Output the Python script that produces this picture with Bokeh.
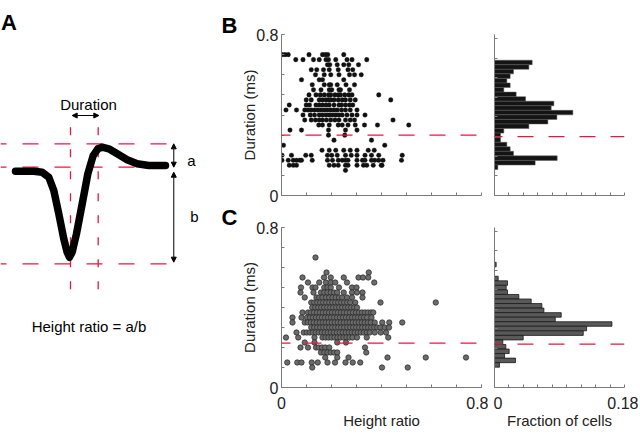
from bokeh.plotting import figure
from bokeh.models import Range1d, FixedTicker, Label, Arrow, NormalHead, Span
from bokeh.layouts import row, column
from bokeh.embed import file_html
from bokeh.resources import INLINE

FONT = "Liberation Sans"
RED = "#e3193f"
AXIS_GRAY = "#7a7a7a"
TXT = "#222222"

# ---------------- Panel A: schematic spike (time in ms rel. to trough, amplitude / trough depth) ----
wave_t = [-0.596, -0.398, -0.307, -0.235, -0.181, -0.127, -0.073, -0.036, -0.011, 0.018, 0.065,
          0.127, 0.188, 0.246, 0.296, 0.343, 0.415, 0.506, 0.614, 0.722, 0.848, 1.029]
wave_v = [-0.041, -0.041, -0.052, -0.104, -0.241, -0.482, -0.741, -0.880, -0.932, -0.880, -0.689,
          -0.379, -0.068, 0.121, 0.190, 0.207, 0.190, 0.139, 0.077, 0.035, 0.018, 0.018]
A_levels = [0.242, 0.0, -1.0]      # peak, baseline, trough
A_times = [0.0, 0.300]             # trough time, peak time

# ---------------- Panel B: Duration vs height ratio (black) ----------------
B_duration = [0.700, 0.675, 0.650, 0.625, 0.600, 0.575, 0.550, 0.525, 0.500, 0.475, 0.450, 0.425,
              0.400, 0.375, 0.350, 0.325, 0.300, 0.275, 0.250, 0.225, 0.200, 0.175, 0.150, 0.125]
B_ratio = [
    [0.002, 0.014, 0.027, 0.110, 0.164, 0.175, 0.185, 0.249],
    [0.057, 0.086, 0.128, 0.151, 0.178, 0.188, 0.217, 0.262, 0.282, 0.341],
    [0.184, 0.193, 0.223, 0.249, 0.269, 0.308],
    [0.119, 0.141, 0.168, 0.191, 0.227, 0.266, 0.285],
    [0.136, 0.171, 0.197, 0.230, 0.272, 0.292, 0.319],
    [0.080, 0.151, 0.164, 0.249],
    [0.123, 0.171, 0.191, 0.197, 0.223, 0.258, 0.292],
    [0.128, 0.158, 0.191, 0.201, 0.230, 0.236, 0.272],
    [0.110, 0.138, 0.155, 0.171, 0.188, 0.197, 0.214, 0.227, 0.236, 0.253, 0.269, 0.282, 0.389],
    [0.099, 0.119, 0.151, 0.164, 0.178, 0.188, 0.197, 0.210, 0.227, 0.243, 0.256, 0.275, 0.295, 0.437],
    [0.031, 0.099, 0.112, 0.138, 0.151, 0.164, 0.178, 0.191, 0.210, 0.230, 0.240, 0.256, 0.272, 0.285],
    [0.018, 0.060, 0.093, 0.106, 0.119, 0.132, 0.145, 0.158, 0.171, 0.184, 0.197, 0.210, 0.223, 0.240,
     0.256, 0.275, 0.302],
    [0.086, 0.115, 0.132, 0.151, 0.164, 0.178, 0.191, 0.204, 0.217, 0.230, 0.243, 0.262, 0.282, 0.302, 0.334],
    [0.093, 0.119, 0.136, 0.151, 0.164, 0.180, 0.197, 0.214, 0.230, 0.256, 0.275, 0.292, 0.446],
    [0.149, 0.164, 0.191, 0.227, 0.243, 0.266, 0.295, 0.332, 0.384, 0.509],
    [0.034, 0.080, 0.188, 0.256, 0.302],
    [0.188, 0.253],
    [0.210, 0.360],
    [0.008, 0.413],
    [0.162, 0.191, 0.217, 0.249, 0.275, 0.302, 0.347, 0.371],
    [0.002, 0.040, 0.097, 0.119, 0.184, 0.201, 0.223, 0.256, 0.279, 0.302, 0.334, 0.360, 0.389, 0.483],
    [0.002, 0.027, 0.047, 0.060, 0.073, 0.080, 0.123, 0.184, 0.204, 0.227, 0.243, 0.256, 0.266, 0.302,
     0.324, 0.334, 0.360, 0.373, 0.389, 0.406, 0.480],
    [0.031, 0.047, 0.060, 0.191, 0.210, 0.227, 0.256, 0.266, 0.302, 0.328, 0.341, 0.367, 0.399, 0.402],
    [0.256],
]
B_threshold = 0.30
B_hist_top = 0.689          # upper edge of highest bin (ms)
B_hist_bin = 0.0232         # bin width (ms)
B_hist_fraction = [0.0522, 0.0476, 0.0263, 0.0217, 0.0171, 0.0217, 0.0129, 0.0300, 0.0430, 0.0822,
                   0.0785, 0.1085, 0.0864, 0.0739, 0.0476, 0.0129, 0.0083, 0.0083, 0.0171, 0.0217,
                   0.0263, 0.0868, 0.0563, 0.0046]

# ---------------- Panel C: Duration vs height ratio (grey) ----------------
C_duration = [0.650, 0.575, 0.550, 0.525, 0.500, 0.475, 0.450, 0.425, 0.400, 0.375, 0.350, 0.325,
              0.300, 0.275, 0.250, 0.225, 0.200, 0.175, 0.150, 0.125, 0.100]
C_ratio = [
    [0.136],
    [0.180, 0.349],
    [0.084, 0.170, 0.197, 0.249, 0.308, 0.326, 0.347],
    [0.106, 0.151, 0.178, 0.197, 0.215, 0.262, 0.371],
    [0.078, 0.124, 0.136, 0.171, 0.184, 0.197, 0.230, 0.282, 0.300],
    [0.076, 0.128, 0.158, 0.171, 0.184, 0.197, 0.210, 0.223, 0.249, 0.282, 0.302, 0.324],
    [0.093, 0.140, 0.151, 0.164, 0.178, 0.191, 0.204, 0.217, 0.230, 0.243, 0.262, 0.282, 0.324],
    [0.119, 0.131, 0.143, 0.155, 0.167, 0.179, 0.191, 0.203, 0.215, 0.227, 0.239, 0.251, 0.263, 0.275,
     0.295, 0.396, 0.617],
    [0.123, 0.135, 0.147, 0.159, 0.171, 0.183, 0.195, 0.207, 0.219, 0.231, 0.243, 0.255, 0.267, 0.279,
     0.291, 0.302],
    [0.084, 0.106, 0.118, 0.130, 0.142, 0.154, 0.166, 0.178, 0.190, 0.202, 0.214, 0.226, 0.238, 0.250,
     0.262, 0.274, 0.286, 0.298, 0.310, 0.322, 0.334, 0.346, 0.358, 0.367],
    [0.044, 0.080, 0.102, 0.114, 0.126, 0.138, 0.150, 0.162, 0.174, 0.186, 0.198, 0.210, 0.222, 0.234,
     0.246, 0.258, 0.270, 0.282, 0.294, 0.306, 0.318, 0.330, 0.342, 0.360],
    [0.044, 0.093, 0.105, 0.117, 0.129, 0.141, 0.153, 0.165, 0.177, 0.189, 0.201, 0.213, 0.225, 0.237,
     0.249, 0.261, 0.273, 0.285, 0.297, 0.309, 0.321, 0.333, 0.345, 0.357, 0.373, 0.403, 0.431, 0.483],
    [0.119, 0.131, 0.143, 0.155, 0.167, 0.179, 0.191, 0.203, 0.215, 0.227, 0.239, 0.251, 0.263, 0.275,
     0.287, 0.299, 0.311, 0.323, 0.335, 0.347, 0.359, 0.371, 0.383, 0.395, 0.413, 0.430],
    [0.060, 0.089, 0.101, 0.113, 0.125, 0.137, 0.149, 0.161, 0.173, 0.185, 0.197, 0.209, 0.221, 0.233,
     0.245, 0.257, 0.269, 0.281, 0.293, 0.305, 0.317, 0.329, 0.341, 0.353, 0.373, 0.397, 0.418],
    [0.018, 0.067, 0.132, 0.164, 0.176, 0.188, 0.200, 0.212, 0.224, 0.236, 0.248, 0.260, 0.272, 0.284,
     0.302, 0.341, 0.427],
    [0.093, 0.132, 0.223, 0.258],
    [0.076, 0.106, 0.138, 0.149, 0.162, 0.175, 0.191, 0.334],
    [0.158, 0.171, 0.184, 0.197, 0.210, 0.223, 0.339],
    [0.175, 0.223, 0.268, 0.424, 0.577, 0.738],
    [0.023, 0.063, 0.080, 0.121, 0.145, 0.184, 0.214, 0.256, 0.285, 0.315],
    [0.123, 0.402, 0.505],
]
C_threshold = 0.222
C_hist_top = 0.570
C_hist_bin = 0.0233
C_hist_fraction = [0.0051, 0.0180, 0.0162, 0.0180, 0.0337, 0.0508, 0.0656, 0.0684, 0.0924, 0.0841,
                   0.1626, 0.1275, 0.1229, 0.0397, 0.0115, 0.0157, 0.0203, 0.0139, 0.0291, 0.0069]
C_hist_outlier_center = 0.630
C_hist_outlier_fraction = 0.0023

SCATTER_MINOR = [0.0, 0.1, 0.2, 0.3, 0.4, 0.5, 0.6, 0.7, 0.8]
HIST_MINOR = [0.0, 0.02, 0.04, 0.06, 0.08, 0.10, 0.12, 0.14, 0.16, 0.18]
HIST_LABEL_TICKS = [0.0048, 0.18]          # "0" label sits a little right of the axis, as printed
HIST_LABELS = {0.0048: "0", 0.18: "0.18"}


def style_axis(ax):
    ax.axis_line_color = AXIS_GRAY
    ax.axis_line_width = 1
    ax.major_tick_line_color = AXIS_GRAY
    ax.minor_tick_line_color = AXIS_GRAY
    ax.major_tick_in = 3
    ax.major_tick_out = 0
    ax.minor_tick_in = 3
    ax.minor_tick_out = 0
    ax.major_label_text_font = FONT
    ax.major_label_text_font_size = "16px"
    ax.major_label_text_color = TXT
    ax.axis_label_text_font = FONT
    ax.axis_label_text_font_size = "15px"
    ax.axis_label_text_font_style = "normal"
    ax.axis_label_text_color = TXT


def base_fig(w, h, xr, yr, left, right, top, bottom):
    p = figure(width=w, height=h, x_range=xr, y_range=yr, output_backend="svg",
               toolbar_location=None, title=None, min_border_left=left, min_border_right=right,
               min_border_top=top, min_border_bottom=bottom)
    p.outline_line_color = None
    p.xgrid.visible = False
    p.ygrid.visible = False
    p.background_fill_color = "white"
    p.border_fill_color = "white"
    style_axis(p.xaxis[0])
    style_axis(p.yaxis[0])
    return p


def flatten(levels, ratios):
    xs, ys = [], []
    for d, rs in zip(levels, ratios):
        for r in rs:
            xs.append(r)
            ys.append(d)
    return xs, ys


# ---------------- Figure A (also carries the B / C panel letters) ----------------
pA = figure(width=238, height=436, x_range=Range1d(-0.7584, 1.8202), y_range=Range1d(-2.7878, 1.7257),
            output_backend="svg", toolbar_location=None, title=None, x_axis_type=None, y_axis_type=None,
            min_border=0)
pA.outline_line_color = None
pA.segment(x0=[-0.7584] * 3, y0=A_levels, x1=[1.083] * 3, y1=A_levels, line_color=RED,
           line_width=1.3, line_dash="16 16", line_dash_offset=10)
pA.segment(x0=A_times, y0=[0.414] * 2, x1=A_times, y1=[-1.346] * 2, line_color=RED,
           line_width=1.3, line_dash="8 14")
pA.line(wave_t, wave_v, line_width=7.5, line_color="black", line_join="round", line_cap="round")


def dbl_arrow(p, x0, y0, x1, y1):
    p.add_layout(Arrow(start=NormalHead(size=5, fill_color="black", line_color="black"),
                       end=NormalHead(size=5, fill_color="black", line_color="black"),
                       x_start=x0, y_start=y0, x_end=x1, y_end=y1, line_color="black", line_width=1))


dbl_arrow(pA, 0.018, 0.535, 0.307, 0.535)
dbl_arrow(pA, 1.119, A_levels[0], 1.119, A_levels[1])
dbl_arrow(pA, 1.119, -0.052, 1.119, -0.983)

for txt, x, y, align, size, style in [
    ("A", -0.753, 1.498, "left", "22px", "bold"),
    ("B", 1.636, 1.467, "left", "22px", "bold"),
    ("C", 1.636, -0.521, "left", "22px", "bold"),
    ("Duration", 0.195, 0.649, "center", "15px", "normal"),
    ("a", 1.311, 0.069, "center", "15px", "normal"),
    ("b", 1.343, -0.510, "center", "15px", "normal"),
    ("Height ratio = a/b", 0.200, -1.649, "center", "15px", "normal"),
]:
    pA.add_layout(Label(x=x, y=y, text=txt, text_align=align, text_baseline="alphabetic",
                        text_font=FONT, text_font_size=size, text_font_style=style, text_color="black"))

# ---------------- Figure B ----------------
Bs = base_fig(250, 205, Range1d(0, 0.8), Range1d(0, 0.8), 39, 7, 34, 10)
Bs.xaxis[0].ticker = FixedTicker(ticks=[], minor_ticks=SCATTER_MINOR)
Bs.xaxis[0].major_label_standoff = 0
Bs.yaxis[0].ticker = FixedTicker(ticks=[0, 0.8], minor_ticks=SCATTER_MINOR)
Bs.yaxis[0].major_label_standoff = 3
Bs.yaxis[0].axis_label = "Duration (ms)"
Bs.yaxis[0].axis_label_standoff = -5
bx, by = flatten(B_duration, B_ratio)
Bs.scatter(bx, by, size=4.6, marker="circle", fill_color="#111111", line_color="#111111", line_width=0.3)
Bs.add_layout(Span(location=B_threshold, dimension="width", line_color=RED, line_width=1.3,
                   line_dash="16 15", line_dash_offset=7))

B_centers = [B_hist_top - (i + 0.5) * B_hist_bin for i in range(len(B_hist_fraction))]
Bh = base_fig(150, 205, Range1d(0, 0.18), Range1d(0, 0.8199), 6, 14, 30, 10)
Bh.xaxis[0].ticker = FixedTicker(ticks=[], minor_ticks=HIST_MINOR)
Bh.xaxis[0].major_label_standoff = 0
Bh.yaxis[0].ticker = FixedTicker(ticks=[], minor_ticks=SCATTER_MINOR[1:])
Bh.yaxis[0].major_label_standoff = 0
Bh.hbar(y=B_centers, height=B_hist_bin, left=0, right=B_hist_fraction, fill_color="#141414",
        line_color="#5a5a5a", line_width=0.5)
Bh.add_layout(Span(location=B_threshold, dimension="width", line_color=RED, line_width=1.3,
                   line_dash="16 15", line_dash_offset=8))

# ---------------- Figure C ----------------
Cs = base_fig(250, 231, Range1d(0, 0.8), Range1d(0, 0.8), 39, 7, 22, 49)
Cs.xaxis[0].ticker = FixedTicker(ticks=[0, 0.8], minor_ticks=SCATTER_MINOR)
Cs.xaxis[0].major_label_standoff = 9
Cs.xaxis[0].axis_label = "Height ratio"
Cs.xaxis[0].axis_label_standoff = 0
Cs.yaxis[0].ticker = FixedTicker(ticks=[0, 0.8], minor_ticks=SCATTER_MINOR)
Cs.yaxis[0].major_label_standoff = 3
Cs.yaxis[0].axis_label = "Duration (ms)"
Cs.yaxis[0].axis_label_standoff = -5
cx, cy = flatten(C_duration, C_ratio)
Cs.scatter(cx, cy, size=5.4, marker="circle", fill_color="#6b6b6b", line_color="#262626", line_width=0.7)
Cs.add_layout(Span(location=C_threshold, dimension="width", line_color=RED, line_width=1.3,
                   line_dash="16 15", line_dash_offset=7))

C_centers = [C_hist_top - (i + 0.5) * C_hist_bin for i in range(len(C_hist_fraction))]
Ch = base_fig(150, 231, Range1d(0, 0.18), Range1d(0, 0.82), 6, 14, 18, 49)
Ch.xaxis[0].ticker = FixedTicker(ticks=HIST_LABEL_TICKS, minor_ticks=HIST_MINOR)
Ch.xaxis[0].major_label_overrides = HIST_LABELS
Ch.xaxis[0].major_tick_in = 0
Ch.xaxis[0].major_label_standoff = 9
Ch.xaxis[0].axis_label = "Fraction of cells"
Ch.xaxis[0].axis_label_standoff = 0
Ch.yaxis[0].ticker = FixedTicker(ticks=[], minor_ticks=SCATTER_MINOR[1:])
Ch.yaxis[0].major_label_standoff = 0
Ch.hbar(y=C_centers + [C_hist_outlier_center], height=C_hist_bin, left=0,
        right=C_hist_fraction + [C_hist_outlier_fraction], fill_color="#595959",
        line_color="#1a1a1a", line_width=0.8)
Ch.add_layout(Span(location=C_threshold, dimension="width", line_color=RED, line_width=1.3,
                   line_dash="16 15", line_dash_offset=8))

layout = row(pA, column(row(Bs, Bh), row(Cs, Ch)))
open("out.html", "w").write(file_html(layout, INLINE))
